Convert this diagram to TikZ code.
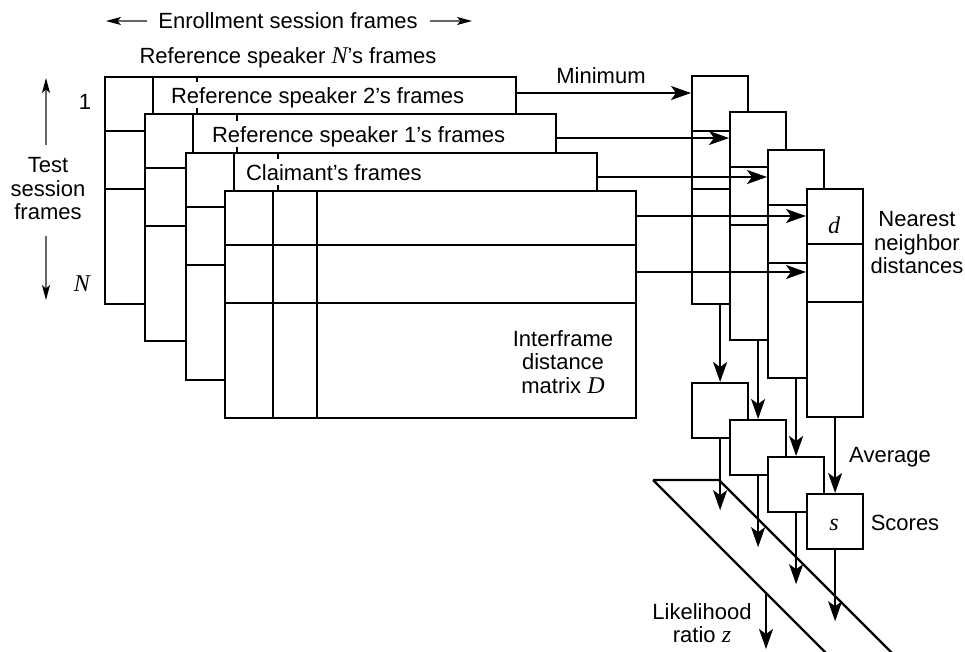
\documentclass[tikz,border=0pt]{standalone}
\usepackage{fontspec}
\setmainfont{Liberation Sans}
\newfontfamily\varfont{Liberation Serif}
\usetikzlibrary{arrows.meta,calc}
\newcommand{\mvar}[1]{{\varfont\itshape\fontsize{24}{23.5}\selectfont #1}}

\begin{document}
\begin{tikzpicture}[x=1pt,y=-1pt,line width=2.2pt,
  every node/.style={inner sep=0pt},
  font=\fontsize{22}{23.5}\selectfont,
  matbox/.style={draw,fill=white,anchor=north west,minimum width=411pt,minimum height=227pt},
  nnbox/.style={draw,fill=white,anchor=north west,minimum width=56pt,minimum height=228pt},
  scbox/.style={draw,fill=white,anchor=north west,minimum width=56pt,minimum height=55pt},
  framelabel/.style={fill=white,anchor=base west,inner xsep=3pt,inner ysep=1pt,text height=20pt,text depth=4pt},
  flow/.style={-{Stealth[length=20pt,width=14pt,inset=5pt]}},
  axis/.style={line width=1.1pt,draw=black!60,-{Stealth[length=15pt,width=8pt,inset=3.5pt,color=black]}},
  lbl/.style={anchor=base},
  block/.style={align=center}
]
\useasboundingbox (0,0) rectangle (965,651);
\clip (0,0) rectangle (965,651);

% interframe distance matrices, from the back one to the front one
\foreach \i/\x/\y in {1/104/76,2/144/113,3/185/152,4/224/190}{
  \node[matbox] (m\i) at (\x,\y) {};
  \draw ($(m\i.north west)+(0,55)$) -- ++(411,0)
        ($(m\i.north west)+(0,113)$) -- ++(411,0)
        ($(m\i.north west)+(49,0)$) -- ++(0,227)
        ($(m\i.north west)+(93,0)$) -- ++(0,227);
}

% frame labels sitting in the top rows
\node[framelabel] (l2) at (167,103) {Reference speaker 2’s frames};
\node[framelabel] (l1) at (208,142) {Reference speaker 1’s frames};
\node[framelabel] (lc) at (242,180) {Claimant’s frames};

% nearest neighbour distance columns
\foreach \i/\x/\y in {1/691/75,2/729/111,3/767/149,4/806/188}{
  \node[nnbox] (n\i) at (\x,\y) {};
  \draw ($(n\i.north west)+(0,56)$) -- ++(56,0)
        ($(n\i.north west)+(0,114)$) -- ++(56,0);
}

% score boxes
\foreach \i/\x/\y in {1/691/382,2/729/419,3/767/456,4/806/493}{
  \node[scbox] (s\i) at (\x,\y) {};
}

% minimum over each row
\coordinate (a1) at ($(m1.north east)+(0,17)$);
\coordinate (a2) at ($(m2.north east)+(0,25)$);
\coordinate (a3) at ($(m3.north east)+(0,25)$);
\coordinate (a4) at ($(m4.north east)+(0,26)$);
\coordinate (a5) at ($(m4.north east)+(0,82)$);
\draw[flow] (a1) -- (a1 -| n1.west);
\draw[flow] (a2) -- (a2 -| n2.west);
\draw[flow] (a3) -- (a3 -| n3.west);
\draw[flow] (a4) -- (a4 -| n4.west);
\draw[flow] (a5) -- (a5 -| n4.west);

% averaging into scores
\foreach \i in {1,...,4}{
  \draw[flow] (n\i.south) -- (s\i.north);
}

% likelihood ratio band
\coordinate (b1) at (653,480);
\coordinate (b2) at (719,480);
\draw (b1) -- (b2) (b1) -- ++(190,190) (b2) -- ++(190,190);

\foreach \i in {1,...,4}{
  \coordinate (o\i) at ($(s\i.south)+(0,71)$);
  \draw[flow] (s\i.south) -- (o\i);
}
\coordinate (lr0) at (766,593);
\coordinate (lr1) at (766,649);
\draw[flow] (lr0) -- (lr1);

% axis captions
\node[lbl] (enr) at (288,28) {Enrollment session frames};
\coordinate (ea0) at (147,21);
\coordinate (ea1) at (106,21);
\coordinate (eb0) at (430,21);
\coordinate (eb1) at (472,21);
\draw[axis] (ea0) -- (ea1);
\draw[axis] (eb0) -- (eb1);

\node[lbl] (refN) at (288,63) {Reference speaker \mvar{N}’s frames};
\node[lbl] (one) at (85,109) {1};
\node[lbl] (bigN) at (82,291) {\mvar{N}};
\node[block] (tsf) at (48,189) {Test\\session\\frames};
\coordinate (ta0) at (46,145);
\coordinate (ta1) at (46,78);
\coordinate (tb0) at (46,236);
\coordinate (tb1) at (46,300);
\draw[axis] (ta0) -- (ta1);
\draw[axis] (tb0) -- (tb1);

% remaining captions
\node[lbl] (minl) at (601,83) {Minimum};
\node[lbl] (dl) at (834,233) {\mvar{d}};
\node[block] (nnd) at (917,243) {Nearest\\neighbor\\distances};
\node[block] (ifd) at (563,362) {Interframe\\distance\\matrix \mvar{D}};
\node[lbl] (avg) at (890,462) {Average};
\node[lbl] (sl) at (834,530) {\mvar{s}};
\node[lbl] (scl) at (905,530) {Scores};
\node[block] (lrt) at (702,623) {Likelihood\\ratio \mvar{z}};
\end{tikzpicture}
\end{document}
